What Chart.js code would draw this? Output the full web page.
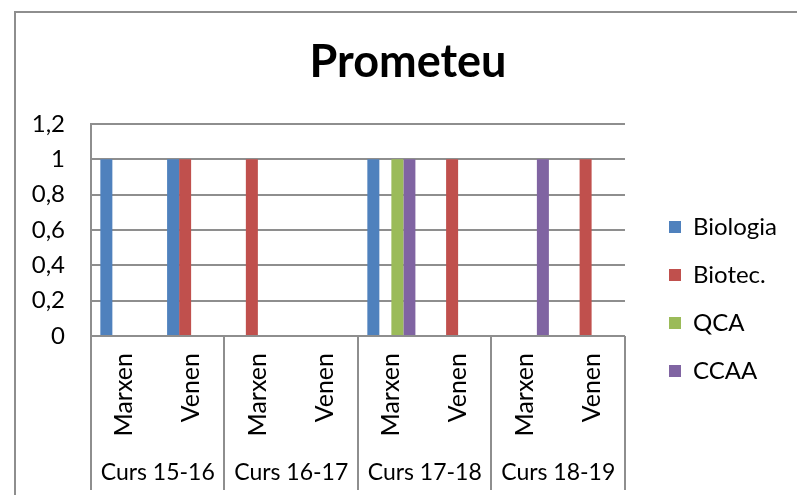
<!DOCTYPE html>
<html>
<head>
<meta charset="utf-8">
<script src="https://cdn.jsdelivr.net/npm/chart.js@4"></script>
<style>
  html, body { margin: 0; padding: 0; background: #fff; }
  #wrap { width: 797px; height: 495px; }
</style>
</head>
<body>
<div id="wrap"><canvas id="chart" width="797" height="495"></canvas></div>
<script>
const categories = ['Marxen', 'Venen', 'Marxen', 'Venen', 'Marxen', 'Venen', 'Marxen', 'Venen'];
const courses = ['Curs 15-16', 'Curs 16-17', 'Curs 17-18', 'Curs 18-19'];
const seriesNames = ['Biologia', 'Biotec.', 'QCA', 'CCAA'];
const biologia = [1, 1, 0, 0, 1, 0, 0, 0];
const biotec = [0, 1, 1, 0, 0, 1, 0, 1];
const qca = [0, 0, 0, 0, 1, 0, 0, 0];
const ccaa = [0, 0, 0, 0, 1, 0, 1, 0];
const yMax = 1.2;
const yStep = 0.2;

const colors = ['#4F81BD', '#C0504D', '#9BBB59', '#8064A2'];
const lineGray = '#8e8e8e';
const font = 'Lato, "Open Sans", sans-serif';

// outer frame of the chart (Excel style)
const framePlugin = {
  id: 'frame',
  beforeDraw(chart) {
    const ctx = chart.ctx;
    ctx.save();
    ctx.strokeStyle = lineGray;
    ctx.lineWidth = 2;
    ctx.beginPath();
    ctx.moveTo(15, chart.height + 2);
    ctx.lineTo(15, 12);
    ctx.lineTo(chart.width + 2, 12);
    ctx.stroke();
    ctx.restore();
  }
};

// separators of the two-level category axis
const groupLines = {
  id: 'groupLines',
  afterDraw(chart) {
    const x = chart.scales.x, x2 = chart.scales.x2;
    const ctx = chart.ctx;
    ctx.save();
    ctx.strokeStyle = lineGray;
    ctx.lineWidth = 2;
    for (let i = 0; i <= categories.length; i += 2) {
      const px = Math.round(x.getPixelForValue(i - 0.5));
      ctx.beginPath();
      ctx.moveTo(px, chart.chartArea.bottom);
      ctx.lineTo(px, x2.bottom);
      ctx.stroke();
    }
    ctx.restore();
  }
};

new Chart(document.getElementById('chart'), {
  type: 'bar',
  data: {
    labels: categories,
    datasets: [
      { label: seriesNames[0], data: biologia, backgroundColor: colors[0] },
      { label: seriesNames[1], data: biotec, backgroundColor: colors[1] },
      { label: seriesNames[2], data: qca, backgroundColor: colors[2] },
      { label: seriesNames[3], data: ccaa, backgroundColor: colors[3] }
    ]
  },
  options: {
    responsive: false,
    animation: false,
    events: [],
    layout: { padding: { left: 20, right: 1, top: 0, bottom: 5 } },
    datasets: { bar: { categoryPercentage: 0.72, barPercentage: 1, borderWidth: 0 } },
    plugins: {
      title: {
        display: true,
        text: 'Prometeu',
        color: '#000',
        font: { family: font, size: 45, weight: 'bold' },
        padding: { top: 35, bottom: 35 }
      },
      legend: {
        position: 'right',
        // blank title only pushes the items down
        title: { display: true, text: ' ', font: { size: 10 }, padding: { top: 96, bottom: 0 } },
        labels: {
          color: '#000',
          font: { family: font, size: 24 },
          boxWidth: 12,
          boxHeight: 12,
          padding: 24
        }
      },
      tooltip: { enabled: false }
    },
    scales: {
      x: {
        grid: { display: false, drawTicks: false },
        border: { display: true, color: lineGray, width: 2 },
        ticks: {
          color: '#000',
          font: { family: font, size: 25 },
          minRotation: 90,
          maxRotation: 90,
          padding: 17,
          autoSkip: false
        },
        afterFit(scale) { scale.height = 119; }
      },
      x2: {
        type: 'category',
        labels: courses,
        position: 'bottom',
        grid: { display: false, drawTicks: false },
        border: { display: false },
        ticks: { color: '#000', font: { family: font, size: 23 }, padding: 4, maxRotation: 0, autoSkip: false },
        afterFit(scale) { scale.height = 35; }
      },
      y: {
        min: 0,
        max: yMax,
        ticks: {
          stepSize: yStep,
          color: '#000',
          font: { family: font, size: 24 },
          padding: 26,
          callback: v => (Math.round(v * 10) / 10).toString().replace('.', ',')
        },
        grid: { color: lineGray, lineWidth: 2, drawTicks: false },
        border: { display: true, color: lineGray, width: 2 },
        afterFit(scale) { scale.width = 71; }
      },
      // empty spacers around the legend
      yGap: {
        position: 'right',
        display: false,
        afterFit(scale) { scale.width = 20; }
      },
      yPad: {
        position: 'right',
        weight: 2000,
        display: false,
        afterFit(scale) { scale.width = 9; }
      }
    }
  },
  plugins: [framePlugin, groupLines]
});
</script>
</body>
</html>
